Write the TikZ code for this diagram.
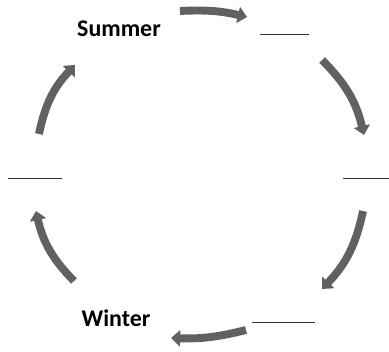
\documentclass[tikz,border=0pt]{standalone}
\usepackage{fontspec}
\setmainfont{Carlito}
\usetikzlibrary{arrows.meta}

\begin{document}
\begin{tikzpicture}[x=0.025cm, y=-0.025cm,
  cyc/.style={draw=black!62, line width=5.6pt, -{Triangle[length=6.5pt, width=11.5pt]}, bend left=16},
  blank/.style={draw=black!80, line width=0.7pt},
  season/.style={font=\bfseries\fontsize{17}{20}\selectfont, inner sep=0pt},
]
  \useasboundingbox (0,0) rectangle (389,351);
  % seasons
  \node[season] (summer) at (119,29) {Summer};
  \node[season] (winter) at (116,318) {Winter};
  % blanks to fill in
  \draw[blank] (260,34) -- (309,34);
  \draw[blank] (343,178) -- (389,178);
  \draw[blank] (8,178) -- (62,178);
  \draw[blank] (252,322) -- (315,322);
  % arrow ends
  \coordinate (t1) at (180,11);  \coordinate (t2) at (247,17);
  \coordinate (r1) at (322,60);  \coordinate (r2) at (364,135);
  \coordinate (r3) at (363,211); \coordinate (r4) at (322,289);
  \coordinate (b1) at (246,330); \coordinate (b2) at (171,338);
  \coordinate (l1) at (74,281);  \coordinate (l2) at (36,211);
  \coordinate (l3) at (39,134);  \coordinate (l4) at (75,65);
  % the cycle
  \draw[cyc, bend left=8] (t1) to (t2);
  \draw[cyc] (r1) to (r2);
  \draw[cyc] (r3) to (r4);
  \draw[cyc, bend left=8] (b1) to (b2);
  \draw[cyc] (l1) to (l2);
  \draw[cyc] (l3) to (l4);
\end{tikzpicture}
\end{document}
